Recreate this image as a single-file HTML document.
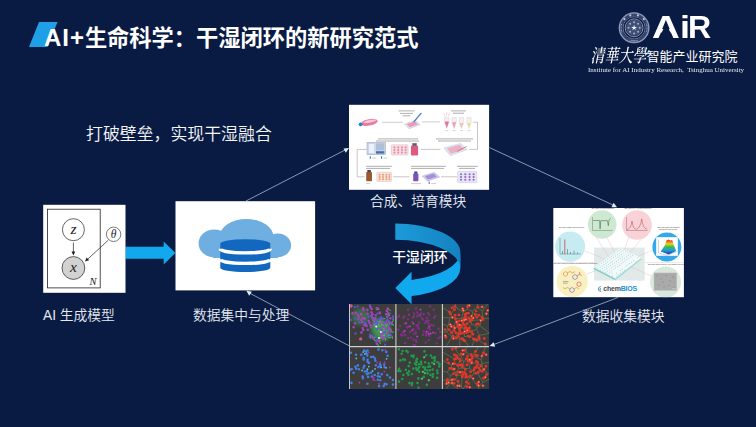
<!DOCTYPE html>
<html lang="zh-CN">
<head>
<meta charset="utf-8">
<title>AI+生命科学：干湿闭环的新研究范式</title>
<style>
html,body{margin:0;padding:0;}
body{width:756px;height:427px;overflow:hidden;background:#091b42;position:relative;font-family:"Liberation Sans","Noto Sans CJK SC",sans-serif;color:#fff;}
.abs{position:absolute;white-space:nowrap;}
#bg{position:absolute;left:0;top:0;width:756px;height:427px;}
.title{left:44px;top:23px;font-size:22.25px;font-weight:700;line-height:30px;}
.title .en{letter-spacing:0.95px;font-size:24px;}
.sub{left:86px;top:123px;font-size:16.9px;font-weight:350;line-height:24px;color:#f4f6fa;}
.lbl{font-size:13.75px;font-weight:350;line-height:20px;color:#e6e9f1;}
.logo-cn{left:590.5px;top:45px;line-height:20px;}
.logo-cn .cal{font-family:"Noto Serif CJK SC",serif;font-weight:500;font-style:italic;font-size:14px;display:inline-block;transform:scaleY(1.3);transform-origin:50% 58%;}
.logo-cn .nm{font-size:13px;font-weight:400;}
.logo-en{left:587.6px;top:60.6px;font-family:"Liberation Serif",serif;font-size:14px;line-height:18px;color:#e4e8f0;transform:scale(0.5);transform-origin:0 50%;}
.airw{position:absolute;left:0;top:0;width:0;height:0;}
.air{display:block;top:8.4px;font-size:31px;font-weight:700;line-height:40px;transform-origin:0 50%;}
.airmask{position:absolute;left:658.8px;top:23.3px;width:14.6px;height:15.5px;background:#091b42;clip-path:polygon(50% 0,100% 100%,0 100%);}
</style>
</head>
<body>
<svg id="bg" viewBox="0 0 756 427">
  <defs>
    <filter id="soft" x="-5%" y="-5%" width="110%" height="110%"><feGaussianBlur stdDeviation="0.45"/></filter>
    <filter id="soft2" x="-5%" y="-5%" width="110%" height="110%"><feGaussianBlur stdDeviation="0.3"/></filter>
    <filter id="glow" x="-30%" y="-30%" width="160%" height="160%"><feGaussianBlur stdDeviation="2.2"/></filter>
    <linearGradient id="cag" x1="0" y1="0" x2="1" y2="0"><stop offset="0" stop-color="#1c9bd9"/><stop offset="1" stop-color="#1482c0"/></linearGradient>
    <clipPath id="c4"><rect x="553.3" y="208" width="130.6" height="89.2"/></clipPath>
    <clipPath id="c5"><rect x="349" y="304" width="140.3" height="85"/></clipPath>
    <linearGradient id="rb" x1="0" y1="0" x2="0" y2="1">
      <stop offset="0" stop-color="#e0201c"/><stop offset="0.3" stop-color="#f0d020"/><stop offset="0.5" stop-color="#30c040"/><stop offset="0.72" stop-color="#20a0e0"/><stop offset="1" stop-color="#3030b0"/>
    </linearGradient>
  </defs>
  <!-- title parallelogram -->
  <polygon points="39,22 57.5,22 47.5,47 29,47" fill="#1e9fe6"/>

  <!-- seal -->
  <g fill="none" filter="url(#soft2)">
    <circle cx="634.1" cy="27.8" r="14.7" stroke="#8d98b8" stroke-width="1.5"/>
    <circle cx="634.1" cy="27.8" r="12.9" stroke="#5d6a92" stroke-width="2.3" opacity="0.55"/>
    <circle cx="634.1" cy="27.8" r="11.1" stroke="#8d98b8" stroke-width="0.7"/>
    <circle cx="634.1" cy="27.8" r="8.9" stroke="#98a3c0" stroke-width="0.9"/>
    <circle cx="634.1" cy="27.8" r="5" stroke="#66739a" stroke-width="6" opacity="0.6"/>
    <path d="M624.4,19.1h.01M630.3,15.4h.01M637.9,15.4h.01M643.8,19.1h.01" stroke="#c3cadc" stroke-width="2.1" stroke-linecap="round"/>
    <path d="M621.9,32.2 A13,13 0 0 1 621.7,23.8 M646.5,23.8 A13,13 0 0 1 646.3,32.2" stroke="#aab3cc" stroke-width="1.2" stroke-dasharray="0.6 0.9"/>
    <path d="M630.7,40.4 A13,13 0 0 0 637.5,40.4" stroke="#b4bcd2" stroke-width="1.2" stroke-dasharray="0.7 0.5"/>
    <path d="M634.1,22.2h.01M638.1,23.8h.01M639.7,27.8h.01M638.1,31.8h.01M634.1,33.4h.01M630.1,31.8h.01M628.5,27.8h.01M630.1,23.8h.01" stroke="#a3adc8" stroke-width="2" stroke-linecap="round"/>
  </g>
  <polygon points="634.1,24.8 634.8,26.8 637.0,26.9 635.3,28.2 635.9,30.2 634.1,29.1 632.3,30.2 632.9,28.2 631.2,26.9 633.4,26.8" fill="#f2f4f9"/>

  <!-- thin connector lines -->
  <g stroke="#c3cbdc" stroke-width="0.7">
    <line x1="246" y1="201" x2="346" y2="149.5"/>
    <line x1="489.5" y1="147.6" x2="614" y2="205.5"/>
    <line x1="618" y1="297.5" x2="493" y2="344.8"/>
    <line x1="349.5" y1="346" x2="248.6" y2="292.6"/>
  </g>
  <g fill="#e6eaf2">
    <polygon points="349,148 343.5,148.6 345.8,152.8"/>
    <polygon points="617,207.3 611.5,207.2 613.6,202.8"/>
    <polygon points="489.5,346 493.6,342.2 495.2,346.8"/>
    <polygon points="246.2,290.6 251.8,291.8 249.2,295.8"/>
  </g>
  <!-- blue block arrow -->
  <polygon points="125.5,246.8 163.7,246.8 163.7,241.4 175.4,252.9 163.7,264.4 163.7,258.8 125.5,258.8" fill="#12a8ee"/>
  <!-- curved arrow -->
  <path d="M460.3,252.2 A65,28.6 0 0 1 411.55,279.9 L411.55,271.8 L395.3,288 L411.55,304.3 L411.55,296.1 A65,28.6 0 0 0 460.3,268.45 Z" fill="#12a8ee"/>
  <path d="M395.3,223.6 A65,28.6 0 0 1 460.3,252.2 L460.3,268.45 A65,28.6 0 0 0 395.3,239.85 Z" fill="url(#cag)"/>

  <!-- box 1 : graphical model -->
  <g>
    <rect x="43.2" y="204.8" width="82.3" height="88" fill="#fff"/>
    <rect x="47.4" y="209.2" width="52.8" height="78.7" fill="none" stroke="#222" stroke-width="0.8"/>
    <circle cx="73.4" cy="229.7" r="11" fill="#fff" stroke="#222" stroke-width="0.7"/>
    <circle cx="73.4" cy="268" r="11.4" fill="#d2d2d2" stroke="#222" stroke-width="0.7"/>
    <circle cx="113.6" cy="234.3" r="7.2" fill="#fff" stroke="#222" stroke-width="0.6"/>
    <g stroke="#222" stroke-width="0.7" fill="none">
      <line x1="73.4" y1="242.6" x2="73.4" y2="253"/>
      <line x1="108.3" y1="240.2" x2="87.2" y2="259.6"/>
    </g>
    <polygon points="73.4,255.6 71.5,251.6 75.3,251.6" fill="#222"/>
    <polygon points="85,261.6 86.6,257.4 89.2,260.2" fill="#222"/>
    <g font-family="'Liberation Serif',serif" font-style="italic" fill="#222" text-anchor="middle">
      <text x="73.6" y="233.8" font-size="15.5">z</text>
      <text x="73.4" y="272" font-size="15.5">x</text>
      <text x="113.7" y="238" font-size="11.5">θ</text>
      <text x="93" y="285" font-size="10.5">N</text>
    </g>
  </g>

  <!-- box 2 : cloud database -->
  <g>
    <rect x="175.5" y="201.2" width="139.6" height="89.2" fill="#fff"/>
    <g fill="#6eaee0">
      <ellipse cx="214.2" cy="243.4" rx="15.6" ry="13.9"/>
      <ellipse cx="246.5" cy="237" rx="27" ry="18"/>
      <ellipse cx="277.8" cy="245.3" rx="13.3" ry="11.8"/>
      <rect x="213" y="245" width="65" height="13" />
    </g>
    <path d="M220.3,243.5 A25,4.2 0 0 1 270.3,243.5 V267.8 A25,4.2 0 0 1 220.3,267.8 Z" fill="#1267bf"/>
    <path d="M220.3,248.7 A25,4.2 0 0 0 270.3,248.7 M220.3,259.2 A25,4.2 0 0 0 270.3,259.2" fill="none" stroke="#fff" stroke-width="3.4"/>
  </g>
  <!-- box 3 : synthesis / culture workflow -->
  <g>
    <rect x="349" y="104.8" width="140.1" height="85" fill="#fff"/>
    <g filter="url(#soft)">
      <!-- row 1 -->
      <ellipse cx="369.3" cy="122.4" rx="8.6" ry="3.2" transform="rotate(-11 369.3 122.4)" fill="#e97c9d"/>
      <ellipse cx="370" cy="121.2" rx="6.5" ry="1.2" transform="rotate(-11 370 121.2)" fill="#f6cbd7"/>
      <circle cx="360.6" cy="124.3" r="1.9" fill="#2b7fd4"/>
      <path d="M382,122.3H403M422,121.9H440" stroke="#9a9a9a" stroke-width="0.5" fill="none"/>
      <polygon points="404.5,124 415.5,120.3 420.3,124.6 409,128.8" fill="#dde5f3" stroke="#a9b4cc" stroke-width="0.4"/>
      <polygon points="406.8,124.1 415,121.4 418,124.4 409.6,127.3" fill="#ee9ab4"/>
      <path d="M414,121.6L421,113.4" stroke="#4d7ccc" stroke-width="1.4" stroke-linecap="round"/><path d="M412.6,123.2L414,121.6" stroke="#9ab" stroke-width="0.6"/>
      <path d="M398.5,110.9h16M400,113.4h13M402.5,115.8h8" stroke="#777" stroke-width="0.6"/>
      <g>
        <path d="M444.6,117.6h4.4v5l-2.2,6l-2.2,-6zM451.9,117.6h4.4v5l-2.2,6l-2.2,-6zM459.3,117.6h4.4v5l-2.2,6l-2.2,-6zM466.8,117.6h4.4v5l-2.2,6l-2.2,-6z" fill="#f3f1f2" stroke="#c9c3c6" stroke-width="0.35"/>
        <polygon points="444.9,121.5 448.7,121.5 448.7,122.6 446.8,128 444.9,122.6" fill="#ea6f95"/>
        <polygon points="452.2,122.3 456,122.3 456,122.6 454.1,128 452.2,122.6" fill="#f19ab2"/>
        <polygon points="459.7,123 463.3,123 461.5,128" fill="#f4bfae"/>
        <polygon points="467.2,123 470.8,123 469,128" fill="#efe08a"/>
        <path d="M443.8,113.5l1.8,3.4M449.6,112.8l-1.2,3.8M446.8,112.2l0,3.8" stroke="#f0a0b8" stroke-width="0.45"/>
        <path d="M445.4,130.6h3M452.6,130.6h3M460,130.6h3M467.5,130.6h3" stroke="#aaa" stroke-width="0.5"/>
      </g>
      <path d="M451,110.9h15M453,113.2h11" stroke="#777" stroke-width="0.6"/>
      <path d="M473,122.2H477.5V149.4H469" stroke="#8e8e8e" stroke-width="0.5" fill="none"/>
      <!-- row 2 -->
      <polygon points="443.8,148 460.5,143.4 467.3,149.6 450.3,155.6" fill="#dbe7f6" stroke="#a9b9d2" stroke-width="0.4"/>
      <polygon points="447,148.2 459.8,144.8 464,149.3 451,153.8" fill="#f0a4b8" opacity="0.85"/>
      <path d="M457,151.5L466.5,146.5" stroke="#d04050" stroke-width="0.6"/>
      <path d="M436,138.9h37M438,141h33" stroke="#777" stroke-width="0.6"/>
      <path d="M440.5,149.4H421" stroke="#8e8e8e" stroke-width="0.5"/>
      <rect x="410.9" y="145.6" width="7.2" height="9.8" rx="1.2" fill="#e05a80"/>
      <rect x="412.3" y="143.2" width="4.4" height="2.6" fill="#59606c"/>
      <rect x="391.3" y="144.8" width="16.8" height="10.2" rx="0.8" fill="#f8e1e6" stroke="#c9a9b3" stroke-width="0.4"/>
      <path d="M394.4,147.4h.01M398.2,147.4h.01M402,147.4h.01M405.6,147.4h.01M394.4,150h.01M398.2,150h.01M402,150h.01M405.6,150h.01M394.4,152.6h.01M398.2,152.6h.01M402,152.6h.01M405.6,152.6h.01" stroke="#ec8ca6" stroke-width="2.2" stroke-linecap="round"/>
      <rect x="367" y="142.3" width="18.5" height="12.4" fill="#cfd9e8" stroke="#8fa0b8" stroke-width="0.5"/>
      <rect x="368.3" y="143.4" width="6.5" height="10.2" fill="#e9f1fa" stroke="#9fb0c8" stroke-width="0.3"/>
      <rect x="376" y="143.4" width="8.3" height="7" fill="#aebfd6"/>
      <rect x="376" y="151.2" width="8.3" height="2.4" fill="#3f6fb5"/>
      <path d="M378,138.9h40M376,141h43" stroke="#777" stroke-width="0.6"/>
      <path d="M370.3,156.2v2.6M381.6,156.2v2.6" stroke="#2f74c8" stroke-width="1"/>
      <path d="M372,158h4M383.3,158h4" stroke="#9a9a9a" stroke-width="0.5"/>
      <path d="M366.8,149.4H357.2V176.8H364.5" stroke="#8e8e8e" stroke-width="0.5" fill="none"/>
      <!-- row 3 -->
      <rect x="366.2" y="172" width="5.8" height="9.2" rx="0.8" fill="#9b5a33"/>
      <rect x="367.3" y="170" width="3.6" height="2.2" fill="#4a4a4a"/>
      <rect x="376.8" y="172.3" width="14.8" height="9.2" rx="0.8" fill="#f7e6dc" stroke="#d0b7a8" stroke-width="0.4"/>
      <path d="M379.6,174.7h.01M383,174.7h.01M386.4,174.7h.01M389.4,174.7h.01M379.6,177h.01M383,177h.01M386.4,177h.01M389.4,177h.01M379.6,179.3h.01M383,179.3h.01M386.4,179.3h.01M389.4,179.3h.01" stroke="#ec9a78" stroke-width="2" stroke-linecap="round"/>
      <path d="M366,166.3h26M366,168.4h24" stroke="#777" stroke-width="0.6"/>
      <path d="M366,183.6h4" stroke="#9a9a9a" stroke-width="0.5"/>
      <path d="M393.2,176.8H409.5M441,176.8H457" stroke="#8e8e8e" stroke-width="0.5"/>
      <rect x="413.2" y="173.6" width="5.2" height="7.6" rx="0.8" fill="#7c52b4"/>
      <rect x="414.2" y="171.5" width="3.2" height="2.3" fill="#3f4f8f"/>
      <path d="M411,183.6h10" stroke="#9a9a9a" stroke-width="0.5"/>
      <polygon points="422.3,176 434.3,172.4 439.6,177 427.4,181.2" fill="#d3cbee" stroke="#a79fd0" stroke-width="0.4"/>
      <polygon points="425,176.2 433.6,173.6 436.8,176.8 428,179.6" fill="#9a7fd0" opacity="0.8"/>
      <path d="M429.2,181.6v2.4" stroke="#2f74c8" stroke-width="1"/>
      <path d="M431,183.6h5" stroke="#9a9a9a" stroke-width="0.5"/>
      <path d="M411,166.3h35M411,168.4h33" stroke="#777" stroke-width="0.6"/>
      <rect x="457.6" y="171.3" width="19.2" height="11.4" rx="0.8" fill="#e9e4f6" stroke="#c0b8dc" stroke-width="0.4"/>
      <path d="M461,174.2h.01M465.3,174.2h.01M469.6,174.2h.01M473.6,174.2h.01M461,177h.01M465.3,177h.01M469.6,177h.01M473.6,177h.01M461,179.8h.01M465.3,179.8h.01M469.6,179.8h.01M473.6,179.8h.01" stroke="#8a68c4" stroke-width="2.1" stroke-linecap="round"/>
      <path d="M457,166.3h21M459,168.4h16" stroke="#777" stroke-width="0.6"/>
    </g>
  </g>
  <!-- box 4 : chemBIOS data collection -->
  <g>
    <rect x="553.3" y="208" width="130.6" height="89.2" fill="#fff"/>
    <g clip-path="url(#c4)">
     <g filter="url(#soft2)">
      <rect x="594.1" y="247.6" width="50.6" height="33" fill="#e2e9e9"/>
      <!-- connector lines -->
      <path d="M596,237L612,262M607,238L620,262M629,237L620,262M641,239.5L622,262M585,251L612,262M587,274L612,264M653,250L625,262M651,276L625,264M553.5,262.6H594M644.7,262.6H684" stroke="#d8b8c0" stroke-width="0.4" fill="none"/>
      <!-- slide -->
      <polygon points="593.7,267.6 620.5,248 641.4,258 615.2,278.6" fill="#f3f8f8"/>
      <polygon points="593.7,267.6 615.2,278.6 615.2,280.2 593.7,269.2" fill="#7fd2c8"/>
      <polygon points="615.2,278.6 641.4,258 641.4,259.4 615.2,280.2" fill="#9adcd4"/>
      <g stroke="#5cc4d6" stroke-width="0.8" stroke-linecap="round" opacity="0.85">
        <path d="M595.9,267.5h.01M598.2,268.7h.01M600.6,270.0h.01M603.0,271.2h.01M605.4,272.4h.01M612.6,276.1h.01M597.8,266.1h.01M600.2,267.3h.01M602.5,268.6h.01M604.9,269.8h.01M607.3,271.0h.01M609.7,272.2h.01M612.1,273.4h.01M616.9,275.9h.01M602.1,265.9h.01M604.5,267.2h.01M606.8,268.4h.01M611.6,270.8h.01M616.4,273.3h.01M618.8,274.5h.01M601.6,263.3h.01M604.0,264.5h.01M606.4,265.8h.01M608.8,267.0h.01M611.2,268.2h.01M620.7,273.1h.01M603.5,261.9h.01M605.9,263.1h.01M608.3,264.4h.01M610.7,265.6h.01M613.1,266.8h.01M615.5,268.0h.01M620.2,270.5h.01M622.6,271.7h.01M605.4,260.5h.01M607.8,261.7h.01M610.2,263.0h.01M612.6,264.2h.01M615.0,265.4h.01M617.4,266.6h.01M622.1,269.1h.01M624.5,270.3h.01M607.3,259.1h.01M612.1,261.6h.01M614.5,262.8h.01M619.3,265.2h.01M609.3,257.7h.01M611.6,258.9h.01M616.4,261.4h.01M621.2,263.8h.01M626.0,266.3h.01M611.2,256.3h.01M613.6,257.5h.01M618.3,260.0h.01M623.1,262.4h.01M627.9,264.9h.01M613.1,254.9h.01M615.5,256.1h.01M617.9,257.4h.01M620.2,258.6h.01M622.6,259.8h.01M625.0,261.0h.01M629.8,263.5h.01M615.0,253.5h.01M617.4,254.7h.01M619.8,256.0h.01M622.2,257.2h.01M624.5,258.4h.01M626.9,259.6h.01M631.7,262.1h.01M619.3,253.3h.01M621.7,254.6h.01M626.5,257.0h.01M628.9,258.2h.01M633.6,260.7h.01M636.0,261.9h.01M618.8,250.7h.01M621.2,251.9h.01M628.4,255.6h.01M630.8,256.8h.01M620.7,249.3h.01M623.1,250.5h.01M625.5,251.8h.01M627.9,253.0h.01M630.3,254.2h.01M632.7,255.4h.01"/>
      </g>
      <g stroke="#f0a0b8" stroke-width="0.6" stroke-linecap="round" opacity="0.8">
        <path d="M607.8,273.6h.01M599.7,264.7h.01M609.2,269.6h.01M613.5,269.4h.01M609.7,260.3h.01M616.9,264.0h.01M614.0,260.2h.01M618.8,262.6h.01M615.9,258.8h.01M620.7,261.2h.01M616.9,252.1h.01M624.1,255.8h.01M623.6,253.2h.01M626.0,254.4h.01M637.5,257.9h.01"/>
      </g>
      <!-- green circle : IR -->
      <circle cx="602.2" cy="224.5" r="14.3" fill="#cfe8d2"/>
      <path d="M592.5,217v13.5h20" stroke="#4a6a50" stroke-width="0.4" fill="none"/>
      <path d="M593,220.5h6.5l.6,8.5l.6,-8.3h6.8l.8,5l.8,-5.8l1.6,-1.6" stroke="#2f5f3a" stroke-width="0.5" fill="none"/>
      <!-- pink circle : UV-Vis -->
      <circle cx="637" cy="225" r="14.8" fill="#f9d2d8"/>
      <path d="M626.5,217v13.5h21" stroke="#7a5058" stroke-width="0.4" fill="none"/>
      <path d="M627,229.5c3,-0.5 4,-3 5,-8.5c1,5 1.5,7.5 3.5,8c3,0.6 5,-3 6.2,-10c1,6 2,9.5 5.5,10.2" stroke="#c03848" stroke-width="0.5" fill="none"/>
      <!-- cyan circle : MS -->
      <circle cx="570.1" cy="246.6" r="15.1" fill="#c6ebf1"/>
      <path d="M560,238v16h21" stroke="#3a5a68" stroke-width="0.4" fill="none"/>
      <path d="M564.8,254v-14.5" stroke="#d02838" stroke-width="0.7"/>
      <path d="M562.5,254v-3M567.5,254v-5M570.5,254v-2M574,254v-3.2M577.5,254v-1.5" stroke="#3a5a68" stroke-width="0.5"/>
      <!-- yellow circle : chemistry -->
      <circle cx="572.2" cy="281.4" r="15.6" fill="#f9f0c2"/>
      <g fill="none" stroke-width="0.55">
        <path d="M563.5,272.8l2,-1.2l2,1.2v2.3l-2,1.2l-2,-1.2z" stroke="#e07820"/>
        <path d="M567.5,272.8l2.6,-1.4l2.4,1.6l2.6,-1.4" stroke="#e07820"/>
        <path d="M575,274.5l2.2,1.3v2.5l-2.2,1.3l-2.2,-1.3v-2.5z" stroke="#5060c0"/>
        <path d="M577.2,275.8l2.4,-1.5l2.2,1.2M579.6,274.3v-2.4" stroke="#d03838"/>
        <path d="M577,283l2,-1.2l2,1.2v2.3l-2,1.2l-2,-1.2z" stroke="#d03838"/>
        <path d="M572,287.5l2.2,1.3v2.5l-2.2,1.3l-2.2,-1.3v-2.5z" stroke="#5060c0"/>
        <path d="M569.8,288.8l-2.4,-1.4l-2.3,1.4l-2.3,-1.4M574.2,288.8l2.4,-1.4l2.3,1.4" stroke="#e07820"/>
        <path d="M563,281.5h5.5M563,283.2h4.5" stroke="#444" stroke-width="0.4"/>
      </g>
      <!-- blue circle : 3D surface -->
      <circle cx="666.9" cy="246.9" r="14.5" fill="#35a8ea"/>
      <rect x="656.2" y="237.2" width="21.6" height="18.6" fill="#fff"/>
      <polygon points="660.6,251.5 664.8,245.5 666.4,240.6 668.6,239.4 670.2,240.4 672.2,240 673.8,245.2 676.2,251 668.8,254.4" fill="url(#rb)"/>
      <path d="M658.5,239.5v13.5l8,2.2l10,-3.4" stroke="#667" stroke-width="0.3" fill="none"/>
      <!-- grey-green circle : cells -->
      <circle cx="665.6" cy="282" r="15.5" fill="#dae8dc"/>
      <rect x="654" y="272.9" width="22.8" height="17.6" fill="#a9aaa9"/>
      <rect x="654" y="272.9" width="22.8" height="17.6" fill="none" stroke="#c4c8c4" stroke-width="0.4"/>
      <path d="M657,276h.01M661,279h.01M666,275.5h.01M670,281h.01M673,277h.01M659,285h.01M664,287h.01M669,285.5h.01M674,288h.01M663,282h.01" stroke="#8e908e" stroke-width="1.4" stroke-linecap="round"/>
      <path d="M672.5,288.6h3" stroke="#eee" stroke-width="0.5"/>
      <!-- logo icon -->
      <path d="M600.9,286.4l-2.3,1.3v2.7l2.3,1.3M600.9,288.2l-1,0.6v0.9l1,0.6" stroke="#2a7fc0" stroke-width="0.8" fill="none"/>
     </g>
      <!-- tiny captions -->
      <g font-family="'Liberation Sans',sans-serif" font-size="2.1" fill="#3c3c3c">
        <text x="591.5" y="209.4">On-chip IR spectroscopy</text>
        <text x="624.5" y="209.4">On-chip UV-Vis spectroscopy</text>
        <text x="558.8" y="228.4">On-chip mass spectrometry</text>
        <text x="553.6" y="264.4">On-chip solution-based combinatorial chemistry</text>
        <text x="657.4" y="227.8">On-chip high-throughput</text>
        <text x="659" y="230.2">materials screening</text>
        <text x="647.8" y="264.6">On-chip high-content cell-based screening</text>
      </g>
      <text x="603.2" y="291.3" font-family="'Liberation Sans',sans-serif" font-size="7" font-weight="700" letter-spacing="-0.2" fill="#454a50">chem<tspan fill="#1a92d6">BIOS</tspan></text>
    </g>
  </g>
  <!-- box 5 : cell images -->
  <g clip-path="url(#c5)" filter="url(#soft)">
<rect x="349" y="304" width="140.3" height="85" fill="#3c3c3c"/>
<g filter="url(#glow)" opacity="0.75"><ellipse cx="380.9" cy="329.6" rx="9.4" ry="11.5" fill="#3fb45a" transform="rotate(-25 380.9 329.6)"/><ellipse cx="360.7" cy="316.8" rx="9.4" ry="8.5" fill="#3a9a58" opacity="0.7"/></g>
<path d="M393.6,319.4l-1.1,2.6M372.8,337.0l2.4,0.7M388.4,321.1l1.3,2.6M378.3,323.6l1.1,2.4M375.0,323.7l-0.9,1.9M391.0,335.4l-2.9,0.0M381.9,321.1l-1.9,1.3M382.0,318.3l2.8,0.2M371.2,335.4l-1.1,2.8M392.3,336.6l0.1,1.8M391.6,331.7l1.7,0.6M378.1,330.2l1.7,0.9M380.4,320.0l-1.3,2.1M371.7,316.9l2.4,1.1M382.8,330.8l1.6,0.4M379.7,341.7l0.7,2.1M384.0,334.5l0.8,1.7M390.8,322.5l1.0,2.4M378.3,340.7l1.8,0.2M385.0,338.1l0.6,2.0M387.8,311.8l1.2,2.8M387.6,323.8l-0.5,1.6M377.9,325.8l-1.6,1.2M387.9,337.0l2.8,0.8M389.5,315.4l-2.8,1.2M379.0,309.3l-2.4,0.5M382.2,334.6l2.1,1.4M377.8,344.4l1.3,2.5M390.0,328.5l1.1,1.3M384.2,327.7l-1.2,1.3M386.4,330.1l-1.7,0.4M385.2,324.0l1.2,2.1M376.3,320.4l0.9,2.0M388.7,309.4l1.6,1.0M381.1,324.3l2.4,1.6M390.2,330.2l1.0,1.4M382.0,337.3l-3.0,1.1M374.5,320.1l-1.5,0.5M373.7,338.9l2.1,2.4M392.4,323.9l1.1,1.5" stroke="#52c468" stroke-width="1.1" stroke-linecap="round" fill="none" opacity="0.8"/>
<path d="M369.4,322.7h.01M385.4,329.3h.01M371.4,327.3h.01M380.9,320.3h.01M384.2,323.2h.01M353.6,327.2h.01M374.0,322.9h.01M383.2,326.9h.01M367.6,313.9h.01M357.7,314.8h.01M358.3,318.7h.01M389.2,329.4h.01M388.0,333.3h.01M363.2,330.0h.01M383.3,339.0h.01M389.0,327.7h.01M371.3,325.8h.01M375.7,315.3h.01M376.7,308.2h.01M367.7,329.7h.01M362.7,328.3h.01M391.4,323.1h.01M375.3,319.6h.01M371.8,336.2h.01M374.0,322.1h.01M388.7,325.4h.01M379.7,313.2h.01M387.4,320.3h.01M367.4,309.9h.01M361.3,319.9h.01M383.0,333.7h.01M361.4,332.6h.01M355.0,323.5h.01M378.7,340.9h.01M378.0,308.5h.01M358.9,316.3h.01M371.6,309.0h.01M364.8,318.6h.01M381.0,336.5h.01M371.5,312.4h.01M352.6,313.4h.01M372.7,338.1h.01M387.7,308.6h.01M390.6,330.9h.01M376.8,343.6h.01M364.4,325.1h.01M386.2,314.3h.01M372.6,314.3h.01M384.0,337.3h.01M381.2,333.8h.01M361.2,314.4h.01M388.5,314.6h.01M362.2,322.3h.01M380.1,323.5h.01M371.5,315.7h.01M355.7,312.7h.01M379.7,312.5h.01M363.1,308.2h.01M386.8,311.0h.01M370.5,325.2h.01M380.3,328.9h.01M363.0,318.0h.01M372.4,318.6h.01M368.8,320.8h.01M366.6,326.1h.01M386.6,323.0h.01M370.3,307.1h.01M390.3,318.2h.01M375.4,318.4h.01M363.5,310.1h.01" stroke="#b240ba" stroke-width="2.6" stroke-linecap="round" fill="none" opacity="0.95"/>
<path d="M354.8,318.6h.01M369.7,336.5h.01M389.8,313.6h.01M386.9,336.2h.01M392.6,318.6h.01M385.5,322.0h.01M359.4,322.4h.01M387.2,317.7h.01M390.0,334.6h.01M355.6,333.5h.01M376.7,320.8h.01M373.5,319.3h.01M384.2,332.4h.01M377.3,322.8h.01M375.7,336.4h.01M354.8,307.1h.01M368.6,316.8h.01M364.7,322.7h.01M381.0,317.5h.01M370.0,305.5h.01M389.8,321.7h.01M385.2,344.8h.01M357.6,306.3h.01M377.1,329.4h.01M376.5,325.2h.01M375.9,341.6h.01M350.7,305.8h.01M366.2,324.1h.01M376.9,325.0h.01M350.7,320.0h.01M391.3,335.8h.01M393.1,316.4h.01M370.7,316.1h.01M382.6,318.9h.01M377.5,313.6h.01M370.2,334.6h.01M377.3,339.9h.01M385.0,331.9h.01M379.4,319.2h.01M381.8,330.0h.01" stroke="#5a58de" stroke-width="2.3" stroke-linecap="round" fill="none" opacity="0.95"/>
<path d="M369.9,323.1h.01M385.9,329.7h.01M371.9,327.7h.01M381.4,320.7h.01M384.7,323.6h.01M354.1,327.6h.01M374.5,323.3h.01M383.7,327.3h.01M368.1,314.3h.01M358.2,315.2h.01M358.8,319.1h.01M389.7,329.8h.01M388.5,333.7h.01M363.7,330.4h.01M383.8,339.4h.01M389.5,328.1h.01M371.8,326.2h.01M376.2,315.7h.01M377.2,308.6h.01M368.2,330.1h.01M363.2,328.7h.01M391.9,323.5h.01M375.8,320.0h.01M372.3,336.6h.01M374.5,322.5h.01M389.2,325.8h.01M380.2,313.6h.01M387.9,320.7h.01M367.9,310.3h.01M361.8,320.3h.01" stroke="#5a58de" stroke-width="1.4" stroke-linecap="round" fill="none" opacity="0.9"/>
<path d="M376.2,326.6h.01M380.9,332.1h.01M379.0,338.1h.01" stroke="#f2fff2" stroke-width="2.0" stroke-linecap="round" fill="none" opacity="0.9"/>
<path d="M360.7,338.9h.01M351.0,306.0h.01" stroke="#e0508a" stroke-width="3.4" stroke-linecap="round" fill="none" opacity="0.95"/>
<path d="M412.3,330.2h.01M433.0,332.6h.01M410.1,326.3h.01M428.7,334.0h.01M413.4,323.6h.01M426.6,331.5h.01M404.7,330.9h.01M420.5,309.6h.01M429.2,326.8h.01M417.2,336.5h.01M406.1,323.2h.01M430.6,333.5h.01M409.0,314.7h.01M429.2,314.8h.01M407.8,319.2h.01M408.5,326.5h.01M410.1,332.1h.01M404.5,323.6h.01M408.0,309.8h.01M403.3,317.8h.01M402.5,335.6h.01M429.9,329.4h.01M405.4,335.2h.01M417.2,316.2h.01M421.9,318.3h.01M419.3,322.6h.01M438.5,338.3h.01M425.3,322.7h.01M428.6,324.0h.01M413.5,329.0h.01M427.0,317.9h.01M426.1,335.2h.01M404.2,316.4h.01M414.0,316.2h.01M426.2,333.4h.01M429.4,335.7h.01M416.4,341.7h.01M416.0,308.5h.01M423.0,334.8h.01M400.2,325.9h.01M425.7,342.6h.01M417.9,325.0h.01M419.0,328.8h.01M428.1,328.1h.01M415.3,345.2h.01M407.0,327.2h.01M411.1,337.6h.01M436.7,343.4h.01M423.7,314.3h.01M430.0,306.4h.01M420.8,313.8h.01M418.9,314.7h.01M423.5,331.5h.01M428.2,312.9h.01M413.6,344.9h.01M423.0,319.6h.01M397.4,317.4h.01M434.1,317.8h.01M414.0,313.5h.01M420.2,315.9h.01M425.9,320.7h.01M412.8,317.6h.01M428.7,320.5h.01M402.8,331.8h.01M435.4,316.1h.01M416.2,340.1h.01M433.5,325.5h.01M417.2,312.4h.01M440.3,337.1h.01M438.5,328.8h.01M399.1,315.7h.01M412.3,322.3h.01M433.7,309.5h.01M403.9,333.2h.01M413.6,339.7h.01M413.9,334.1h.01M428.1,332.3h.01M401.0,334.7h.01M405.2,343.0h.01M415.6,331.6h.01M435.4,333.2h.01M440.1,331.7h.01M431.2,325.2h.01M416.4,325.5h.01M417.9,327.4h.01M427.6,321.8h.01M428.8,340.1h.01M398.4,329.5h.01M415.8,333.2h.01M408.1,338.0h.01" stroke="#942c9c" stroke-width="2.4" stroke-linecap="round" fill="none" opacity="0.8"/>
<path d="M412.3,330.2h.01M433.0,332.6h.01M410.1,326.3h.01M428.7,334.0h.01M413.4,323.6h.01M426.6,331.5h.01M404.7,330.9h.01M420.5,309.6h.01M429.2,326.8h.01M417.2,336.5h.01M406.1,323.2h.01M430.6,333.5h.01" stroke="#c24ac4" stroke-width="1.6" stroke-linecap="round" fill="none" opacity="0.9"/>
<clipPath id="cp2"><rect x="442.4" y="304.0" width="46.9" height="42.6"/></clipPath>
<path d="M501.3,260.2L512.2,272.0M532.7,291.2L512.2,272.0M430.6,260.9L408.0,284.8M400.5,291.6L408.0,284.8M400.5,291.6L403.8,317.1M403.8,317.1L403.2,331.4M399.7,359.2L403.2,331.4M501.3,260.2L483.3,263.6M430.6,260.9L446.8,263.9M446.8,263.9L468.1,265.0M483.3,263.6L468.1,265.0M446.8,263.9L456.1,307.5M408.0,284.8L451.1,313.2M456.1,307.5L451.1,313.2M403.8,317.1L406.2,317.4M403.2,331.4L446.9,332.1M406.2,317.4L447.8,325.5M446.9,332.1L447.8,325.5M451.8,337.0L425.0,381.2M451.8,337.0L455.7,336.8M459.7,338.8L455.7,336.8M459.7,338.8L460.3,384.9M460.3,384.9L430.9,388.1M425.0,381.2L430.9,388.1M399.7,359.2L425.0,381.2M446.9,332.1L451.8,336.9M451.8,336.9L451.8,337.0M501.2,390.2L467.2,384.7M467.2,384.7L460.3,384.9M501.2,390.2L520.9,368.0M530.2,358.8L520.9,368.0M532.7,291.2L527.2,323.2M527.2,323.2L527.3,340.1M530.2,358.8L527.3,340.1M467.2,384.7L470.5,349.3M459.7,338.8L463.3,338.1M470.5,349.3L463.3,338.1M512.2,272.0L482.3,311.1M483.3,263.6L477.2,307.3M477.2,307.3L482.3,311.1M479.9,325.6L481.5,319.8M479.9,325.6L477.2,327.6M477.2,327.6L471.6,323.8M471.6,323.8L471.0,320.4M471.0,320.4L481.5,319.8M527.2,323.2L482.9,318.0M479.9,325.6L489.5,333.3M527.3,340.1L489.5,333.3M481.5,319.8L482.9,318.0M482.3,311.1L482.5,317.2M482.9,318.0L482.5,317.2M451.8,336.9L453.7,326.9M447.8,325.5L448.4,325.1M448.4,325.1L453.7,326.9M406.2,317.4L450.0,317.8M448.4,325.1L450.0,317.8M451.1,313.2L451.4,316.8M451.4,316.8L450.0,317.8M471.0,336.4L474.3,340.1M471.0,336.4L471.3,331.5M479.4,335.3L476.9,339.1M479.4,335.3L476.6,329.3M476.9,339.1L474.3,340.1M476.6,329.3L471.3,331.5M470.5,349.3L474.3,340.1M463.3,338.1L464.7,336.5M464.7,336.5L471.0,336.4M467.9,328.6L471.3,331.5M467.9,328.6L463.9,328.6M463.9,328.6L464.7,336.5M520.9,368.0L476.9,339.1M489.5,333.3L479.4,335.3M477.2,327.6L476.6,329.3M471.6,323.8L467.9,328.6M468.1,265.0L467.5,309.1M456.1,307.5L463.0,312.1M463.0,312.1L467.5,309.1M477.2,307.3L472.1,311.3M467.5,309.1L472.1,311.3M471.0,320.4L470.9,320.3M482.5,317.2L472.7,312.6M470.9,320.3L472.7,312.6M472.1,311.3L472.7,312.6M454.2,326.6L456.2,318.9M454.2,326.6L460.9,328.4M462.7,327.8L460.9,328.4M462.7,327.8L462.8,319.5M456.2,318.9L461.8,318.2M462.8,319.5L461.8,318.2M451.4,316.8L456.2,318.9M453.7,326.9L454.2,326.6M455.7,336.8L460.9,328.4M463.9,328.6L462.7,327.8M470.9,320.3L462.8,319.5M463.0,312.1L461.8,318.2" stroke="#6f9c50" stroke-width="0.55" fill="none" opacity="0.9" clip-path="url(#cp2)"/>
<path d="M452.4,317.4h.01M450.4,324.6h.01M473.3,317.9h.01M487.8,310.4h.01M451.2,326.5h.01M480.7,320.5h.01M464.2,320.1h.01M471.5,316.1h.01M464.8,331.6h.01M469.3,305.5h.01M486.4,313.8h.01M482.1,306.9h.01M454.8,328.1h.01M445.4,335.7h.01M465.9,319.4h.01M462.6,308.7h.01M459.5,324.9h.01M456.6,322.0h.01M467.3,330.3h.01M453.5,338.5h.01M461.7,320.6h.01M463.4,310.4h.01M461.1,325.2h.01M466.5,332.5h.01M454.7,306.4h.01M451.3,332.5h.01M458.5,336.4h.01M469.5,328.3h.01M454.5,309.7h.01M473.0,334.3h.01M476.1,311.1h.01M453.5,326.8h.01M479.4,338.7h.01M478.0,307.2h.01M473.4,339.0h.01M482.3,317.7h.01M483.1,319.6h.01M468.0,336.0h.01M471.6,331.8h.01M461.5,338.6h.01M455.1,315.3h.01M459.3,329.0h.01M458.8,320.9h.01M464.7,328.3h.01M445.0,329.6h.01M466.0,327.1h.01M476.5,324.3h.01M465.0,314.5h.01M468.8,331.5h.01M449.4,311.9h.01M455.4,318.5h.01M465.7,316.6h.01M478.4,324.0h.01M463.0,333.0h.01M458.5,333.9h.01M478.9,336.6h.01M463.1,340.1h.01M460.8,333.6h.01M452.1,307.9h.01M454.0,330.6h.01M484.3,338.5h.01M464.6,340.7h.01M469.9,321.6h.01M460.0,331.1h.01M464.5,324.9h.01M458.9,314.9h.01M468.5,313.1h.01M446.0,337.2h.01M476.7,340.6h.01M450.4,314.0h.01M464.1,318.3h.01M460.8,326.9h.01M457.5,324.3h.01M467.2,323.7h.01M467.6,306.7h.01M466.4,313.5h.01M476.9,317.3h.01M479.0,315.1h.01M485.2,343.9h.01M456.4,338.0h.01M472.0,319.8h.01M455.8,332.7h.01M470.0,319.1h.01M468.6,317.9h.01M457.8,326.2h.01M453.1,336.3h.01M466.9,328.5h.01M475.3,314.8h.01M463.1,322.7h.01M469.7,336.6h.01M449.2,329.8h.01M475.3,339.5h.01" stroke="#e6342a" stroke-width="2.9" stroke-linecap="round" fill="none" opacity="0.98"/>
<path d="M452.4,317.4h.01M450.4,324.6h.01M473.3,317.9h.01M487.8,310.4h.01M451.2,326.5h.01M480.7,320.5h.01M464.2,320.1h.01M471.5,316.1h.01M464.8,331.6h.01M469.3,305.5h.01M486.4,313.8h.01M482.1,306.9h.01M454.8,328.1h.01M445.4,335.7h.01M465.9,319.4h.01M462.6,308.7h.01M459.5,324.9h.01M456.6,322.0h.01M467.3,330.3h.01M453.5,338.5h.01M461.7,320.6h.01M463.4,310.4h.01" stroke="#f6a48c" stroke-width="1.5" stroke-linecap="round" fill="none" opacity="0.9"/>
<clipPath id="cp5"><rect x="442.4" y="346.6" width="46.9" height="42.4"/></clipPath>
<path d="M531.1,334.1L501.3,307.6M500.4,306.5L501.3,307.6M501.8,434.7L470.2,426.2M470.2,426.2L430.3,433.3M534.6,402.3L501.8,434.7M500.4,306.5L465.5,308.6M465.5,308.6L431.4,306.8M534.6,402.3L528.5,376.5M531.1,334.1L528.5,356.0M528.5,376.5L528.5,356.0M470.1,423.9L478.7,387.5M470.1,423.9L470.2,426.2M493.8,377.2L528.5,376.5M493.8,377.2L482.8,382.1M482.8,382.1L478.7,387.5M404.5,335.1L407.7,332.2M431.4,306.8L428.6,310.3M407.7,332.2L428.6,310.3M501.3,307.6L491.5,327.5M528.5,356.0L482.2,363.5M482.2,363.5L481.1,359.8M491.5,327.5L481.1,359.8M470.1,423.9L462.6,392.2M478.7,387.5L471.2,377.3M471.2,377.3L469.6,377.7M469.6,377.7L462.6,390.1M462.6,392.2L462.6,390.1M455.7,379.7L461.6,387.0M455.7,379.7L457.9,374.7M461.6,387.0L462.0,375.6M457.9,374.7L462.0,375.6M469.6,377.7L464.0,374.7M461.6,387.0L462.6,390.1M464.0,374.7L462.0,375.6M450.1,375.6L446.7,372.0M450.1,375.6L456.1,372.6M446.7,372.0L451.5,368.1M451.5,368.1L456.1,372.5M456.1,372.6L456.1,372.5M455.7,379.7L449.8,380.6M449.8,380.6L450.1,375.6M457.9,374.7L456.1,372.6M405.0,340.7L451.5,365.2M405.0,340.7L405.0,366.0M451.5,365.2L451.5,368.1M405.0,366.0L446.7,372.0M481.9,364.1L482.7,369.7M481.9,364.1L477.3,364.9M477.3,364.9L472.7,370.6M482.7,369.7L478.1,373.9M478.1,373.9L473.9,373.6M473.9,373.6L472.7,370.6M493.8,377.2L482.7,369.7M482.2,363.5L481.9,364.1M482.8,382.1L478.1,373.9M471.2,377.3L473.9,373.6M481.1,359.8L472.6,356.1M477.3,364.9L470.7,361.1M470.7,361.1L472.6,356.1M491.5,327.5L472.5,355.8M472.5,355.8L472.6,356.1M465.5,308.6L466.2,352.4M472.5,355.8L466.2,352.4M450.0,383.1L449.7,380.7M450.0,383.1L424.2,426.5M449.7,380.7L404.0,375.7M424.2,426.5L398.9,401.9M398.9,401.9L404.0,375.7M449.8,380.6L449.7,380.7M462.6,392.2L450.0,383.1M430.3,433.3L424.2,426.5M405.0,366.0L404.0,375.7M404.5,335.1L405.0,340.7M472.7,370.6L469.4,368.3M470.7,361.1L470.5,361.3M470.5,361.3L469.4,368.3M464.0,374.7L465.1,369.2M469.4,368.3L465.1,369.2M456.1,372.5L458.9,368.2M465.1,369.2L464.2,368.4M458.9,368.2L464.2,368.4M470.5,361.3L463.5,361.0M464.2,368.4L463.5,361.0M454.5,363.4L457.3,364.1M454.5,363.4L454.1,358.7M457.3,364.1L462.5,360.3M454.1,358.7L459.7,355.5M462.5,360.3L461.4,356.2M459.7,355.5L461.4,356.2M451.5,365.2L454.5,363.4M458.9,368.2L457.3,364.1M407.7,332.2L454.1,358.7M463.5,361.0L462.5,360.3M428.6,310.3L459.7,355.5M466.2,352.4L461.4,356.2" stroke="#6f9c50" stroke-width="0.55" fill="none" opacity="0.9" clip-path="url(#cp5)"/>
<path d="M473.1,378.6h.01M460.0,372.2h.01M452.0,379.7h.01M478.6,385.6h.01M463.3,354.2h.01M484.1,369.2h.01M462.7,350.4h.01M485.3,377.3h.01M452.9,363.8h.01M478.7,382.0h.01M448.5,382.6h.01M459.4,385.9h.01M469.7,387.2h.01M452.1,382.9h.01M481.9,356.0h.01M454.2,369.0h.01M469.8,359.7h.01M486.1,354.7h.01M483.0,385.7h.01M471.8,362.9h.01M446.6,383.8h.01M457.5,385.8h.01M467.1,364.8h.01M474.0,370.1h.01M456.3,374.9h.01M456.0,358.7h.01M482.3,371.4h.01M464.5,372.4h.01M478.1,372.2h.01M460.1,365.0h.01M475.9,373.3h.01M447.0,382.0h.01M459.6,359.1h.01M449.7,368.2h.01M480.0,369.9h.01M462.3,376.9h.01M466.3,381.9h.01M478.8,368.1h.01M475.6,351.4h.01M483.5,378.3h.01M477.5,355.7h.01M466.3,358.9h.01M465.4,369.2h.01M457.9,372.0h.01M466.1,374.4h.01M454.2,383.5h.01M453.5,373.6h.01M456.4,355.7h.01M486.0,366.3h.01M471.4,361.1h.01M472.0,356.2h.01M462.0,364.7h.01M454.4,359.3h.01M452.4,369.0h.01M447.5,379.5h.01M460.3,360.9h.01M468.6,361.5h.01M457.6,365.4h.01M480.9,366.0h.01M462.6,374.8h.01M468.7,383.6h.01M477.1,365.6h.01M456.1,348.1h.01M457.4,357.7h.01M454.1,379.4h.01M467.5,356.3h.01M475.6,355.3h.01M466.7,386.5h.01M447.3,359.6h.01M465.6,377.3h.01M472.3,358.3h.01M471.3,354.7h.01M483.5,353.0h.01M454.6,363.8h.01M470.6,371.7h.01M448.7,363.0h.01M464.7,350.2h.01M474.5,368.1h.01M477.2,383.9h.01M476.0,367.2h.01M467.8,359.8h.01M467.3,376.9h.01M486.5,374.6h.01M477.8,362.8h.01M476.2,361.5h.01M458.2,381.5h.01M452.4,349.3h.01M462.3,366.7h.01M470.3,375.9h.01M461.2,353.9h.01M461.8,371.9h.01M454.2,354.7h.01" stroke="#e6342a" stroke-width="2.9" stroke-linecap="round" fill="none" opacity="0.98"/>
<path d="M473.1,378.6h.01M460.0,372.2h.01M452.0,379.7h.01M478.6,385.6h.01M463.3,354.2h.01M484.1,369.2h.01M462.7,350.4h.01M485.3,377.3h.01M452.9,363.8h.01M478.7,382.0h.01M448.5,382.6h.01M459.4,385.9h.01M469.7,387.2h.01M452.1,382.9h.01M481.9,356.0h.01M454.2,369.0h.01M469.8,359.7h.01M486.1,354.7h.01M483.0,385.7h.01M471.8,362.9h.01M446.6,383.8h.01M457.5,385.8h.01" stroke="#f6a48c" stroke-width="1.5" stroke-linecap="round" fill="none" opacity="0.9"/>
<path d="M366.9,371.1h.01M379.8,376.7h.01M367.6,350.5h.01M367.5,359.8h.01M358.9,369.3h.01M375.3,360.7h.01M390.0,377.5h.01M386.6,384.3h.01M384.2,364.6h.01M382.4,350.3h.01M367.4,355.6h.01M364.1,350.6h.01M392.9,384.6h.01M381.7,374.2h.01M377.8,376.2h.01M380.0,364.2h.01M366.7,353.6h.01M355.4,366.7h.01M373.3,356.7h.01M363.6,357.7h.01M378.5,349.6h.01M353.6,372.8h.01M384.7,383.7h.01M351.7,369.0h.01M362.9,378.3h.01M375.0,358.6h.01M371.9,376.6h.01M375.8,365.2h.01M377.7,379.7h.01M357.9,365.4h.01M378.2,373.3h.01M356.0,354.7h.01M363.5,367.8h.01M384.6,367.3h.01M380.3,380.2h.01M356.2,368.7h.01M368.1,376.9h.01M386.3,351.9h.01M366.8,374.1h.01M374.7,375.0h.01M368.5,373.3h.01M350.9,352.7h.01M378.3,367.1h.01M387.6,355.7h.01M367.4,383.7h.01M371.1,372.8h.01M351.4,382.9h.01M364.3,365.9h.01M392.9,380.0h.01M383.7,385.9h.01M366.0,351.6h.01M363.7,359.5h.01M361.3,354.8h.01M350.2,370.1h.01M387.3,375.1h.01M371.0,357.0h.01M380.5,365.8h.01M362.7,376.6h.01M367.6,361.8h.01M364.8,371.5h.01M369.0,362.9h.01M379.1,386.1h.01" stroke="#4480ee" stroke-width="2.6" stroke-linecap="round" fill="none" opacity="0.95"/>
<path d="M380.2,362.0h.01M373.7,377.8h.01M377.2,362.5h.01M389.8,367.4h.01M379.0,383.8h.01M385.2,350.0h.01M374.5,380.3h.01M373.0,379.5h.01M384.4,371.4h.01M368.6,352.6h.01M359.3,382.6h.01M384.7,362.3h.01" stroke="#a838b4" stroke-width="2.0" stroke-linecap="round" fill="none" opacity="0.9"/>
<path d="M362.0,370.5h.01M363.1,352.1h.01M356.3,358.4h.01M368.8,366.6h.01M372.6,371.0h.01M364.9,354.0h.01M367.5,369.2h.01M386.2,367.8h.01M381.1,367.4h.01M386.6,358.8h.01M375.0,368.9h.01" stroke="#62d0f0" stroke-width="1.8" stroke-linecap="round" fill="none" opacity="0.9"/>
<path d="M434.1,364.0h.01M422.9,371.8h.01M428.8,380.3h.01M421.9,378.8h.01M424.9,373.1h.01M424.1,357.3h.01M430.0,370.3h.01M417.0,358.9h.01M413.5,357.2h.01M416.9,362.0h.01M412.1,383.0h.01M417.5,383.1h.01M426.2,355.2h.01M437.1,377.9h.01M416.1,360.5h.01M439.5,363.9h.01M432.8,376.8h.01M434.8,357.1h.01M416.2,368.1h.01M413.6,355.5h.01M405.0,359.7h.01M419.2,371.6h.01M399.0,381.6h.01M423.1,367.1h.01M416.2,364.8h.01M432.7,369.6h.01M400.4,360.4h.01M403.2,359.4h.01M403.3,375.0h.01M399.1,368.8h.01M398.9,349.2h.01M411.5,355.8h.01M402.2,379.1h.01M409.4,383.1h.01M419.3,367.0h.01M413.3,368.6h.01M407.7,352.1h.01M427.3,370.5h.01M437.2,370.5h.01M437.6,373.1h.01M416.8,370.0h.01M426.8,384.7h.01M430.5,374.9h.01M425.1,369.6h.01M425.2,362.2h.01M411.8,385.0h.01M409.0,371.4h.01M418.4,378.4h.01M398.3,370.9h.01M400.4,371.1h.01M428.2,366.7h.01M411.8,374.0h.01M401.6,353.8h.01M418.5,387.7h.01M406.3,350.8h.01M408.4,374.8h.01M428.9,363.6h.01M419.1,364.3h.01M432.3,357.8h.01M430.1,366.6h.01M414.9,363.5h.01M421.0,361.9h.01M409.7,362.6h.01M427.6,373.4h.01M425.2,367.6h.01M408.7,366.1h.01M432.2,362.8h.01M407.2,373.0h.01M430.8,355.5h.01M433.1,374.2h.01M405.8,369.8h.01M402.6,351.0h.01M434.7,361.0h.01M437.6,362.3h.01M418.2,368.8h.01M439.3,366.4h.01M424.4,351.4h.01M421.3,364.3h.01M423.8,376.9h.01M434.6,358.7h.01" stroke="#1ea24c" stroke-width="2.6" stroke-linecap="round" fill="none" opacity="0.92"/>
<path d="M434.1,364.0h.01M422.9,371.8h.01M428.8,380.3h.01M421.9,378.8h.01M424.9,373.1h.01M424.1,357.3h.01" stroke="#a0e060" stroke-width="1.4" stroke-linecap="round" fill="none" opacity="0.9"/>
<path d="M395.9,304V389M442.4,304V389M349,346.6H489.3M349.4,304V389" stroke="#cfcfcf" stroke-width="1.1" fill="none"/>
  </g>
</svg>
<div class="abs title"><span class="en">AI+</span>生命科学：干湿闭环的新研究范式</div>
<div class="abs sub">打破壁垒，实现干湿融合</div>

<div class="airw"><span class="abs air" style="left:652.2px;transform:scaleX(1.243);">A</span><span class="abs air" style="left:679.7px;transform:scaleX(1.16);">i</span><span class="abs air" style="left:687.6px;transform:scaleX(1.035);">R</span></div>
<div class="airmask"></div>
<div class="abs logo-cn"><span class="cal">清華大學</span><span class="nm">智能产业研究院</span></div>
<div class="abs logo-en">Institute for AI Industry Research,&nbsp; Tsinghua University</div>

<div class="abs lbl" style="left:43px;top:305.6px;">AI 生成模型</div>
<div class="abs lbl" style="left:192.9px;top:305.6px;">数据集中与处理</div>
<div class="abs lbl" style="left:370px;top:192px;">合成、培育模块</div>
<div class="abs lbl" style="left:582px;top:306.7px;">数据收集模块</div>
<div class="abs" style="left:392.3px;top:248.3px;font-size:13.8px;font-weight:500;line-height:20px;">干湿闭环</div>
</body>
</html>
